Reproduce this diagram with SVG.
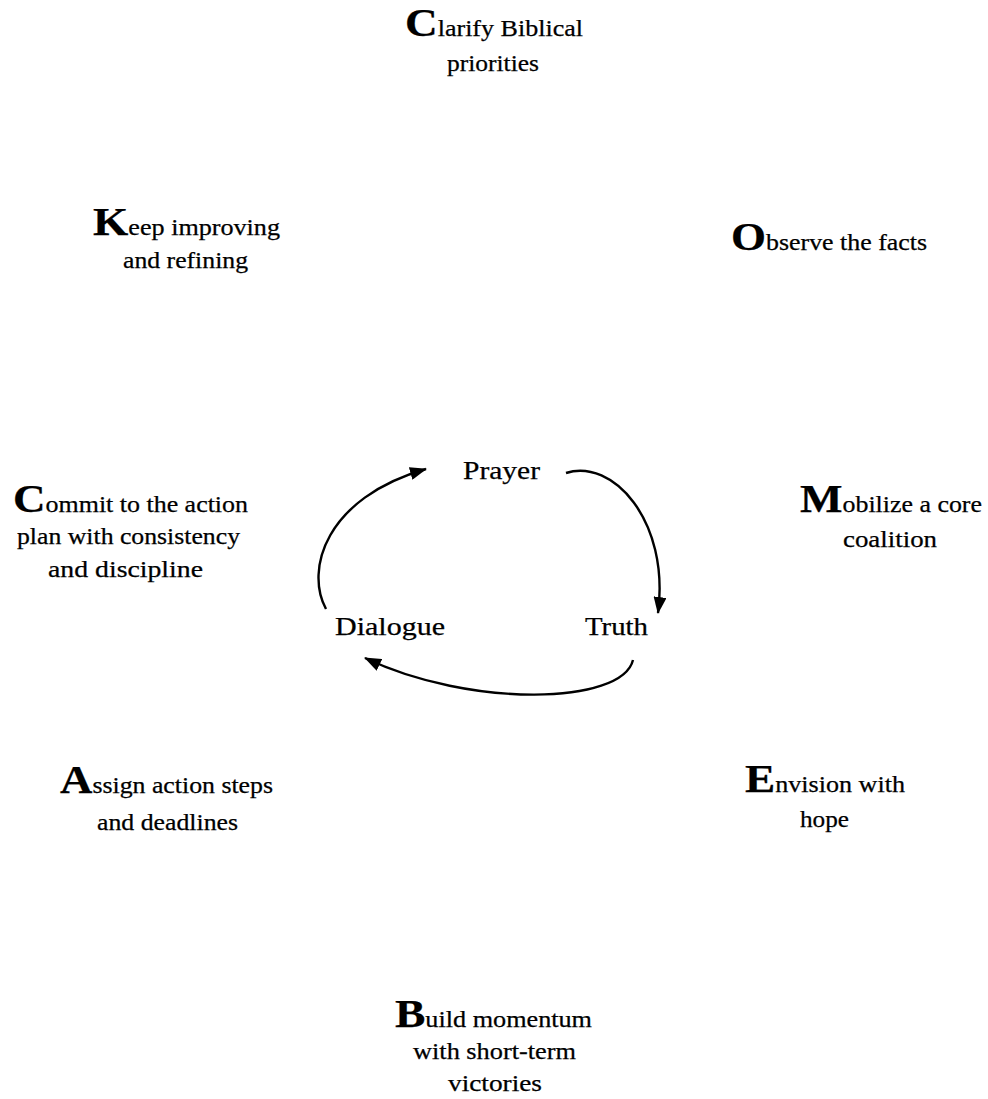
<svg xmlns="http://www.w3.org/2000/svg" width="988" height="1099" viewBox="0 0 988 1099">
<style>
text{font-family:"Liberation Serif","Times New Roman",serif;fill:#000;stroke:#000;stroke-width:0.25}
.t{font-size:23px}
.b{font-size:40px;font-weight:bold}
.c{font-size:25px}
.arc{fill:none;stroke:#000;stroke-width:2.4}
</style>
<defs>
<marker id="ah" markerUnits="userSpaceOnUse" markerWidth="17" markerHeight="13" refX="16" refY="6.5" orient="auto">
<path d="M0,0 L17,6.5 L0,13 Z" fill="#000"/>
</marker>
</defs>
<rect width="988" height="1099" fill="#fff"/>
<g id="clarify">
<text class="t" x="405" y="36" textLength="178" lengthAdjust="spacingAndGlyphs"><tspan class="b">C</tspan>larify Biblical</text>
<text class="t" x="447" y="71" textLength="92" lengthAdjust="spacingAndGlyphs">priorities</text>
</g>
<g id="keep">
<text class="t" x="93" y="235" textLength="187" lengthAdjust="spacingAndGlyphs"><tspan class="b">K</tspan>eep improving</text>
<text class="t" x="123" y="268" textLength="125" lengthAdjust="spacingAndGlyphs">and refining</text>
</g>
<g id="observe">
<text class="t" x="731" y="250" textLength="196" lengthAdjust="spacingAndGlyphs"><tspan class="b">O</tspan>bserve the facts</text>
</g>
<g id="commit">
<text class="t" x="13" y="512" textLength="235" lengthAdjust="spacingAndGlyphs"><tspan class="b">C</tspan>ommit to the action</text>
<text class="t" x="17" y="544" textLength="223" lengthAdjust="spacingAndGlyphs">plan with consistency</text>
<text class="t" x="48" y="577" textLength="155" lengthAdjust="spacingAndGlyphs">and discipline</text>
</g>
<g id="mobilize">
<text class="t" x="800" y="512" textLength="182" lengthAdjust="spacingAndGlyphs"><tspan class="b">M</tspan>obilize a core</text>
<text class="t" x="843" y="547" textLength="94" lengthAdjust="spacingAndGlyphs">coalition</text>
</g>
<g id="assign">
<text class="t" x="60" y="793" textLength="213" lengthAdjust="spacingAndGlyphs"><tspan class="b">A</tspan>ssign action steps</text>
<text class="t" x="97" y="830" textLength="141" lengthAdjust="spacingAndGlyphs">and deadlines</text>
</g>
<g id="envision">
<text class="t" x="745" y="792" textLength="160" lengthAdjust="spacingAndGlyphs"><tspan class="b">E</tspan>nvision with</text>
<text class="t" x="800" y="827" textLength="49" lengthAdjust="spacingAndGlyphs">hope</text>
</g>
<g id="build">
<text class="t" x="395" y="1027" textLength="197" lengthAdjust="spacingAndGlyphs"><tspan class="b">B</tspan>uild momentum</text>
<text class="t" x="413" y="1059" textLength="163" lengthAdjust="spacingAndGlyphs">with short-term</text>
<text class="t" x="448" y="1091" textLength="94" lengthAdjust="spacingAndGlyphs">victories</text>
</g>
<g id="prayer">
<text class="c" x="463" y="479" textLength="77" lengthAdjust="spacingAndGlyphs">Prayer</text>
</g>
<g id="truth">
<text class="c" x="585" y="635" textLength="63" lengthAdjust="spacingAndGlyphs">Truth</text>
</g>
<g id="dialogue">
<text class="c" x="335" y="635" textLength="110" lengthAdjust="spacingAndGlyphs">Dialogue</text>
</g>
<g id="connectors">
<path class="arc" d="M566,473 C612,458 670,520 658,613" marker-end="url(#ah)"/>
<path class="arc" d="M633,660 C622,705 470,708 365,658" marker-end="url(#ah)"/>
<path class="arc" d="M326,609 C305,570 325,498 426,469" marker-end="url(#ah)"/>
</g>
</svg>
